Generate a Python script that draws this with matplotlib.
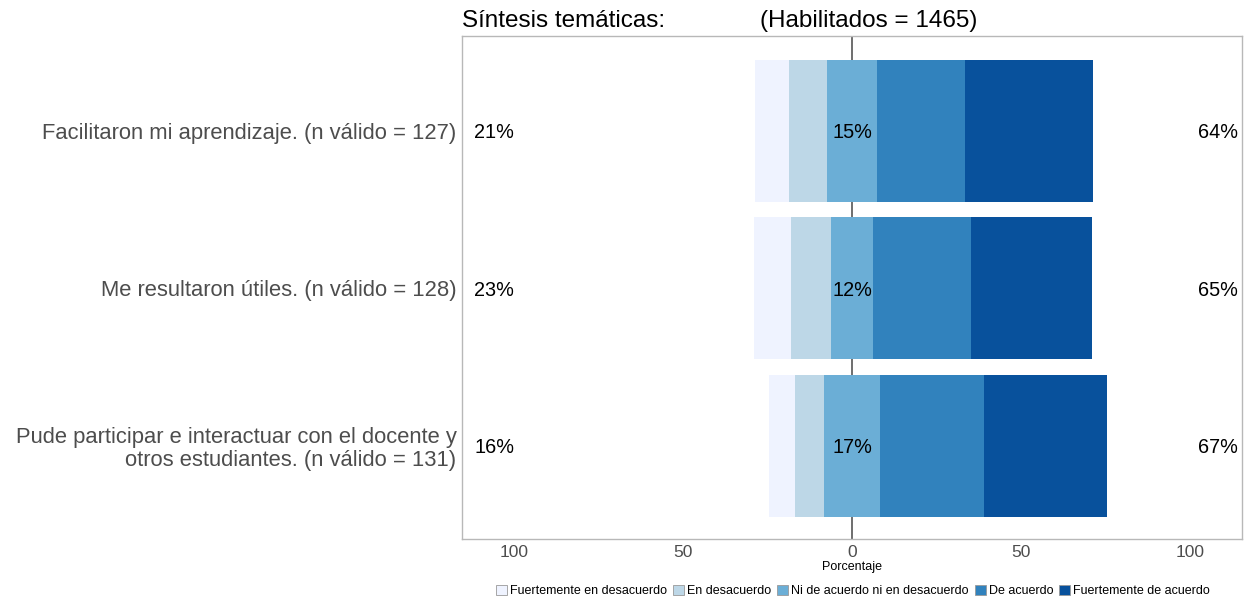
import matplotlib
matplotlib.use("Agg")
import matplotlib.pyplot as plt
from matplotlib.patches import Patch
import numpy as np

plt.rcParams['font.family'] = ['Liberation Sans', 'DejaVu Sans']

questions = [
    "Facilitaron mi aprendizaje. (n válido = 127)",
    "Me resultaron útiles. (n válido = 128)",
    "Pude participar e interactuar con el docente y\notros estudiantes. (n válido = 131)",
]
levels = ["Fuertemente en desacuerdo", "En desacuerdo",
          "Ni de acuerdo ni en desacuerdo", "De acuerdo", "Fuertemente de acuerdo"]
colors = ["#eff3ff", "#bdd7e7", "#6baed6", "#3182bd", "#08519c"]

# counts per level (Fuertemente en desacuerdo ... Fuertemente de acuerdo)
counts = [
    [13, 14, 19, 33, 48],
    [14, 15, 16, 37, 46],
    [10, 11, 22, 40, 48],
]
left_pct = ["21%", "23%", "16%"]
mid_pct = ["15%", "12%", "17%"]
right_pct = ["64%", "65%", "67%"]

W, H = 1248, 601
fig = plt.figure(figsize=(W / 100, H / 100), dpi=100)
ax = fig.add_axes([462 / W, 1 - 539 / H, (1242 - 462) / W, (539 - 36) / H])

ax.axvline(0, color="#555555", lw=1.2, zorder=0)

ypos = np.arange(1, len(questions) + 1)
for i, row in enumerate(counts):
    pct = np.array(row) / sum(row) * 100
    start = -(pct[0] + pct[1] + pct[2] / 2)
    x = start
    for j, p in enumerate(pct):
        ax.barh(ypos[i], p, left=x, height=0.9, color=colors[j], edgecolor="none", zorder=2)
        x += p
    for xx, lab in [(-105.9, left_pct[i]), (0, mid_pct[i]), (108.3, right_pct[i])]:
        ax.text(xx, ypos[i], lab, ha="center", va="center_baseline",
                fontsize=14.3, color="black", zorder=3)

ax.set_xlim(-115.4, 115.4)
ax.set_ylim(3.59, 0.40)
ax.set_yticks(ypos)
ax.set_yticklabels(questions, fontsize=15.8, color="#4d4d4d", linespacing=1.08)
ax.tick_params(axis="y", length=0, pad=4)
ax.set_xticks([-100, -50, 0, 50, 100])
ax.set_xticklabels(["100", "50", "0", "50", "100"], fontsize=12.5, color="#4d4d4d")
ax.tick_params(axis="x", length=0, pad=4)
for s in ax.spines.values():
    s.set_color("#b8b8b8")
    s.set_linewidth(1.0)
ax.set_xlabel("Porcentaje", fontsize=9, color="black", labelpad=1)

fig.text(462 / W, 1 - 21 / H, "Síntesis temáticas:", fontsize=17.5, va="center", ha="left")
fig.text(760 / W, 1 - 21 / H, "(Habilitados = 1465)", fontsize=17.5, va="center", ha="left")

handles = [Patch(facecolor=c, edgecolor="#999999", linewidth=0.6) for c in colors]
fig.legend(handles, levels, loc="center", bbox_to_anchor=(853 / W, 1 - 591 / H), ncol=5,
           frameon=False, fontsize=9, handlelength=0.9, handleheight=0.9,
           handletextpad=0.25, columnspacing=0.45, borderpad=0)

fig.savefig("out.png", dpi=100)
